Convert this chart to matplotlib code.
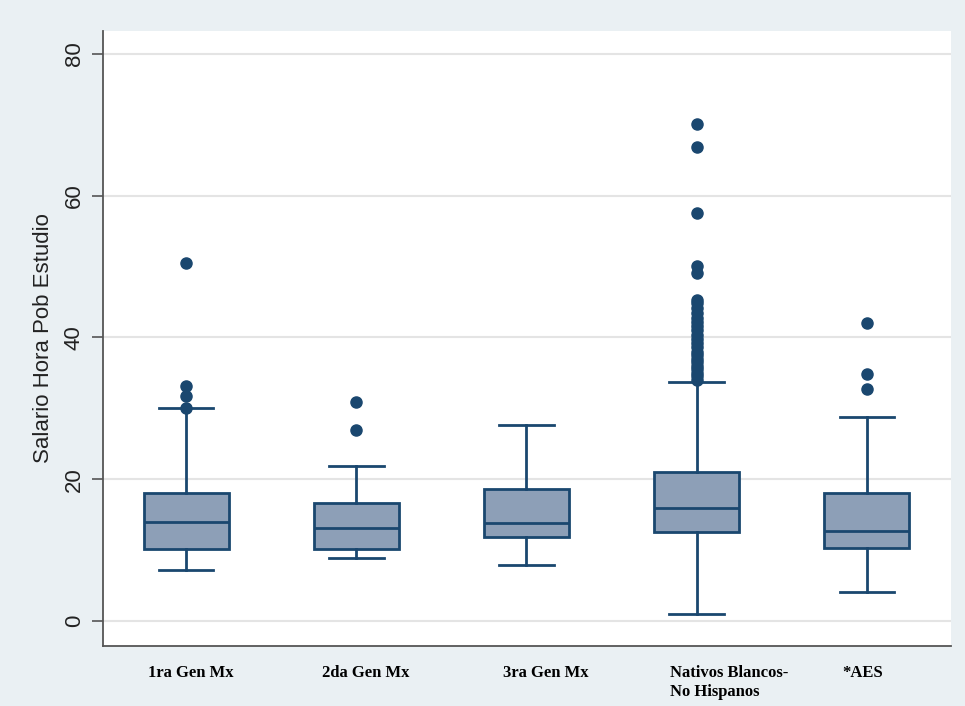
import matplotlib
matplotlib.use("Agg")
import matplotlib.pyplot as plt
import matplotlib.transforms as mtransforms

# ---- data ----
categories = ["1ra Gen Mx", "2da Gen Mx", "3ra Gen Mx", "Nativos Blancos-\nNo Hispanos", "*AES"]
q1 = [10.2, 10.2, 11.8, 12.6, 10.25]
median = [14.0, 13.1, 13.8, 16.0, 12.7]
q3 = [18.0, 16.6, 18.6, 21.0, 18.0]
whisker_low = [7.2, 8.9, 7.9, 1.0, 4.05]
whisker_high = [30.0, 21.8, 27.6, 33.7, 28.8]
outliers = [
    [30.1, 31.8, 33.2, 50.5],
    [26.9, 30.9],
    [],
    [34.0, 34.5, 35.0, 35.5, 36.0, 36.5, 37.0, 37.5, 38.0, 38.6, 39.2, 39.8,
     40.3, 41.0, 41.6, 42.2, 42.8, 43.5, 44.2, 44.8, 45.3,
     49.1, 50.1, 57.5, 66.9, 70.1],
    [32.7, 34.9, 42.1],
]
yticks = [0, 20, 40, 60, 80]
ylabel = "Salario Hora Pob Estudio"

# ---- styling ----
navy = "#1a476f"
fill = "#8d9fb7"
bg = "#eaf0f3"

fig = plt.figure(figsize=(9.65, 7.06), dpi=100, facecolor=bg)
ax = fig.add_axes([103 / 965, 1 - 645.7 / 706, (951 - 103) / 965, (645.7 - 30.7) / 706])
ax.set_facecolor("white")

stats = []
for i in range(len(categories)):
    stats.append(dict(med=median[i], q1=q1[i], q3=q3[i],
                      whislo=whisker_low[i], whishi=whisker_high[i],
                      fliers=outliers[i], label=categories[i]))

positions = list(range(1, len(categories) + 1))
ax.bxp(stats, positions=positions, widths=0.5, capwidths=0.32,
       patch_artist=True, showfliers=True,
       boxprops=dict(facecolor=fill, edgecolor=navy, linewidth=2.0),
       medianprops=dict(color=navy, linewidth=2.0),
       whiskerprops=dict(color=navy, linewidth=2.0),
       capprops=dict(color=navy, linewidth=2.0),
       flierprops=dict(marker="o", markerfacecolor=navy, markeredgecolor=navy,
                       markersize=8, linestyle="none"),
       zorder=3)

ax.set_xlim(0.512, 5.494)
ax.set_ylim(-3.5, 83.3)

ax.set_yticks(yticks)
ax.set_yticklabels([str(t) for t in yticks], rotation=90, va="center",
                   fontsize=16, family="Liberation Sans", color="#222222")
ax.tick_params(axis="y", length=8, width=1.2, color="#555555", pad=5)
ax.set_ylabel(ylabel, fontsize=16, family="Liberation Sans", color="#222222", labelpad=7)

ax.set_xticks(positions)
ax.set_xticklabels(categories, fontsize=12, family="Liberation Serif",
                   fontweight="bold", multialignment="left", va="top")
ax.tick_params(axis="x", length=0, pad=14)
# small horizontal shifts of the labels, as placed in the reference
shifts_px = [5, 9, 19, 32, -4]
for lab, dx in zip(ax.get_xticklabels(), shifts_px):
    lab.set_transform(lab.get_transform() +
                      mtransforms.ScaledTranslation(dx / 100, 0, fig.dpi_scale_trans))

ax.grid(axis="y", color="#e4e4e4", linewidth=1.5, zorder=0)
ax.set_axisbelow(True)

for side in ["top", "right"]:
    ax.spines[side].set_visible(False)
for side in ["left", "bottom"]:
    ax.spines[side].set_color("#555555")
    ax.spines[side].set_linewidth(1.3)

fig.savefig("out.png", dpi=100, facecolor=bg)
